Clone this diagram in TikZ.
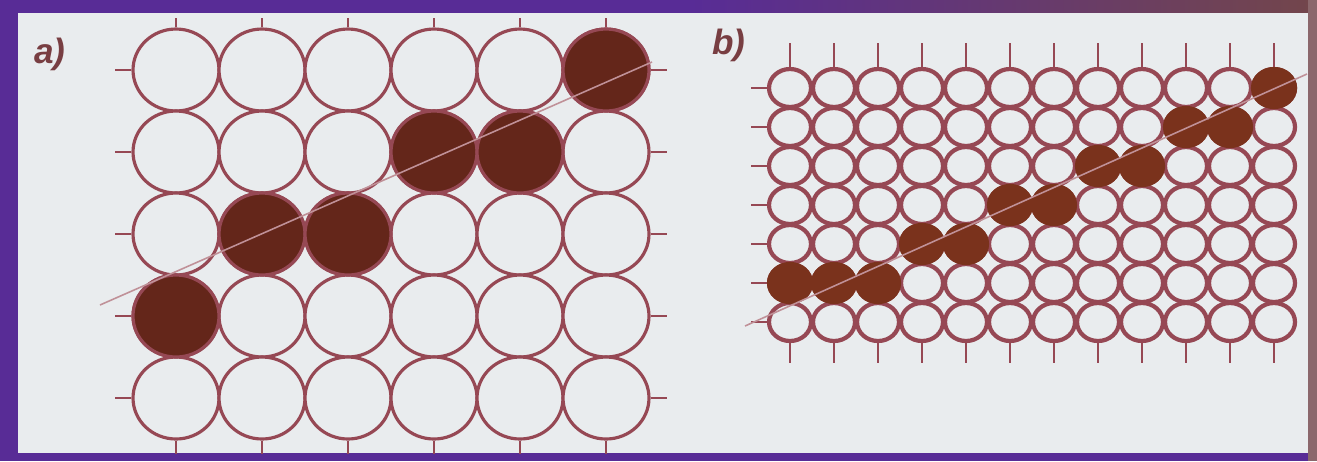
\documentclass[tikz,border=0pt]{standalone}
\usepackage{fontspec}
\setsansfont{Liberation Sans}
\usepackage{tikz}
\usetikzlibrary{shapes.geometric, positioning}
\usepackage{xcolor}
\definecolor{frame}{RGB}{88,44,150}
\definecolor{frametop}{RGB}{115,70,75}
\definecolor{paper}{RGB}{233,236,238}
\definecolor{rim}{RGB}{150,72,84}
\definecolor{grainfill}{RGB}{100,38,26}
\definecolor{grainfillb}{RGB}{122,50,28}
\definecolor{trace}{RGB}{192,145,152}
\definecolor{labelcol}{RGB}{120,62,66}

\begin{document}
\begin{tikzpicture}[
    x=0.02cm, y=-0.02cm,
    graina/.style={ellipse, draw=rim, fill=paper, line width=1.8pt, inner sep=0pt, minimum width=1.72cm, minimum height=1.64cm},
    grainb/.style={ellipse, draw=rim, fill=paper, line width=2.4pt, inner sep=0pt, minimum width=0.84cm, minimum height=0.76cm},
    filleda/.style={fill=grainfill},
    filledb/.style={fill=grainfillb, draw=grainfillb},
    edgetick/.style={draw=rim, line width=1.6pt},
    edgetickb/.style={draw=rim, line width=1.6pt},
    traceline/.style={draw=trace, line width=0.9pt},
    panellabel/.style={font=\fontsize{20}{20}\selectfont\sffamily\bfseries\itshape, text=labelcol, inner sep=0pt}
]
    % Frame
    \fill[frame] (0,0) rectangle (1317,461);
    \shade[left color=frame, right color=frametop] (690,0) rectangle (1317,13);
    \fill[frametop!80!paper] (1308,0) rectangle (1317,461);
    \fill[paper] (18,13) rectangle (1308,453);

    % Labels
    \node (lbla) [panellabel] at (50,54) {a)};
    \node (lblb) [panellabel] at (729,45) {b)};

    % Panel a: coarse grains
    \foreach \r in {1,...,5}
        \foreach \c in {1,...,6}
            \node (a-\r-\c) [graina] at ({176+86*(\c-1)},{70+82*(\r-1)}) {};
    \foreach \r/\c in {1/6, 2/4, 2/5, 3/2, 3/3, 4/1}
        \node [graina, filleda] at (a-\r-\c) {};
    \foreach \c in {1,...,6} {
        \path [edgetick] (a-1-\c.north) -- ++(0,-9);
        \path [edgetick] (a-5-\c.south) -- ++(0,13);
    }
    \foreach \r in {1,...,5} {
        \path [edgetick] (a-\r-1.west) -- ++(-16,0);
        \path [edgetick] (a-\r-6.east) -- ++(16,0);
    }
    \coordinate (a-start) at (100,305);
    \coordinate (a-end) at (652,62);
    \path [traceline] (a-start) -- (a-end);

    % Panel b: fine grains
    \foreach \r in {1,...,7}
        \foreach \c in {1,...,12}
            \node (b-\r-\c) [grainb] at ({790+44*(\c-1)},{88+39*(\r-1)}) {};
    \foreach \r/\c in {6/1, 6/2, 6/3, 5/4, 5/5, 4/6, 4/7, 3/8, 3/9, 2/10, 2/11, 1/12}
        \node [grainb, filledb] at (b-\r-\c) {};
    \foreach \c in {1,...,12} {
        \path [edgetickb] (b-1-\c.north) -- ++(0,-24);
        \path [edgetickb] (b-7-\c.south) -- ++(0,20);
    }
    \foreach \r in {1,...,7}
        \path [edgetickb] (b-\r-1.west) -- ++(-16,0);
    \coordinate (b-start) at (745,326);
    \coordinate (b-end) at (1307,74);
    \path [traceline] (b-start) -- (b-end);
\end{tikzpicture}
\end{document}
